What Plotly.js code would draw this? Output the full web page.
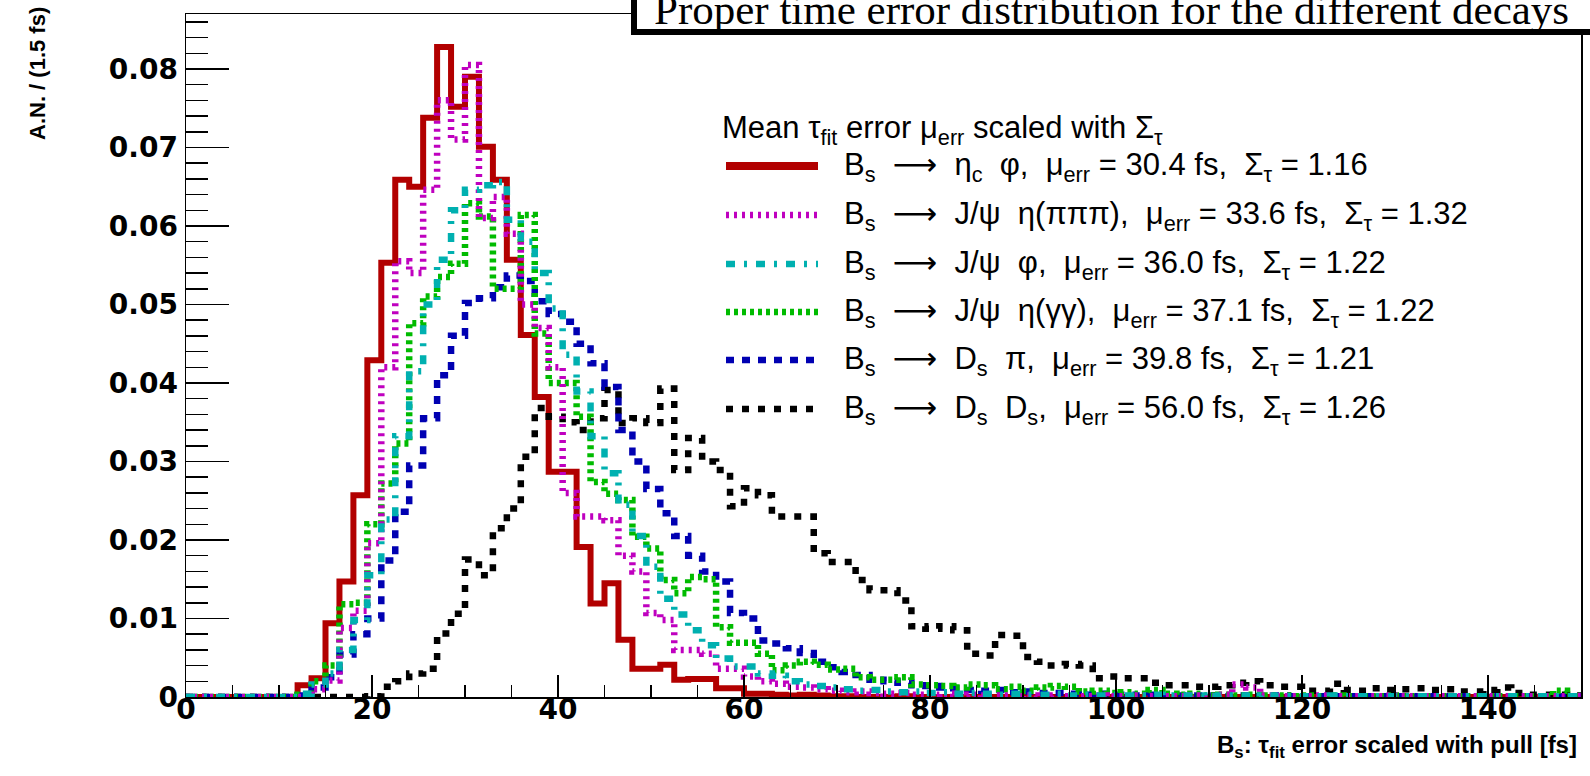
<!DOCTYPE html>
<html>
<head>
<meta charset="utf-8">
<script src="https://cdn.plot.ly/plotly-3.0.1.min.js"></script>
<style>html,body{margin:0;padding:0;background:#fff;}#chart{width:1590px;height:776px;}</style>
</head>
<body>
<div id="chart"></div>
<script>
// ---------- data (normalised entries per 1.5 fs bin, 100 bins from 0 to 150 fs) ----------
const BIN_WIDTH = 1.5;
const X_MIN = 0;

const etacPhi = [
 0,0,0,0,0,0,0,0,0.0015,0.0024,
 0.0094,0.0147,0.0257,0.0429,0.0553,0.0659,0.0650,0.0738,0.0828,0.0752,
 0.0790,0.0701,0.0659,0.0557,0.0461,0.0382,0.0287,0.0287,0.0191,0.0119,
 0.0145,0.0073,0.0036,0.0036,0.0041,0.0022,0.0023,0.0023,0.0011,0.0011,
 0.0004,0.0004,0.0003,0.0002,0.0003,0.0002,0.0001,0.0001,0,0,
 0,0.0001,0,0,0,0,0,0,0,0,
 0,0,0,0,0,0,0,0,0,0,
 0,0,0,0,0,0,0,0,0,0,
 0,0,0,0,0,0,0,0,0,0,
 0,0,0,0,0,0,0,0,0,0
];
const jpsiEta3pi = [
 0,0,0,0,0,0,0,0,0,0.0010,
 0.0021,0.0088,0.0110,0.0196,0.0420,0.0555,0.0540,0.0646,0.0760,0.0710,
 0.0805,0.0610,0.0637,0.0590,0.0500,0.0470,0.0420,0.0260,0.0230,0.0230,
 0.0225,0.0180,0.0160,0.0107,0.0098,0.0060,0.0060,0.0055,0.0036,0.0036,
 0.0026,0.0020,0.0017,0.0013,0.0012,0.0010,0.0008,0.0006,0.0007,0.0005,
 0.0004,0.0005,0.0003,0.0003,0.0004,0.0002,0.0003,0.0002,0.0002,0.0001,
 0.0002,0.0001,0.0002,0.0001,0.0001,0.0002,0.0001,0.0001,0.0002,0.0001,
 0.0001,0.0001,0.0002,0.0001,0.0003,0.0016,0.0012,0.0002,0.0001,0.0001,
 0.0001,0.0002,0.0001,0.0001,0.0001,0.0001,0.0002,0.0001,0.0001,0.0001,
 0.0001,0.0001,0.0001,0.0001,0.0001,0.0001,0.0001,0.0001,0.0001,0.0001
];
const jpsiPhi = [
 0,0,0,0,0,0,0,0,0.0004,0.0016,
 0.0030,0.0060,0.0098,0.0155,0.0226,0.0332,0.0415,0.0500,0.0557,0.0620,
 0.0646,0.0652,0.0656,0.0608,0.0580,0.0540,0.0495,0.0436,0.0389,0.0332,
 0.0285,0.0245,0.0205,0.0166,0.0125,0.0105,0.0085,0.0066,0.0049,0.0039,
 0.0039,0.0030,0.0027,0.0020,0.0016,0.0014,0.0012,0.0010,0.0008,0.0009,
 0.0007,0.0006,0.0007,0.0005,0.0006,0.0004,0.0005,0.0004,0.0003,0.0004,
 0.0003,0.0003,0.0004,0.0002,0.0003,0.0002,0.0003,0.0002,0.0002,0.0003,
 0.0002,0.0002,0.0002,0.0001,0.0002,0.0002,0.0001,0.0002,0.0001,0.0001,
 0.0001,0.0001,0.0002,0.0001,0.0001,0.0001,0.0001,0.0001,0.0001,0.0001,
 0.0001,0.0001,0.0001,0.0001,0.0001,0.0001,0.0001,0.0001,0.0001,0.0001
];
const jpsiEtaGG = [
 0,0,0,0,0,0,0,0,0.0003,0.0020,
 0.0040,0.0118,0.0120,0.0220,0.0272,0.0323,0.0476,0.0510,0.0535,0.0552,
 0.0629,0.0612,0.0520,0.0520,0.0614,0.0463,0.0400,0.0400,0.0357,0.0274,
 0.0259,0.0251,0.0204,0.0189,0.0149,0.0132,0.0153,0.0150,0.0089,0.0069,
 0.0069,0.0055,0.0034,0.0040,0.0045,0.0041,0.0035,0.0036,0.0025,0.0022,
 0.0022,0.0025,0.0016,0.0015,0.0014,0.0012,0.0016,0.0015,0.0010,0.0013,
 0.0008,0.0012,0.0014,0.0013,0.0007,0.0008,0.0005,0.0006,0.0004,0.0009,
 0.0004,0.0003,0.0004,0.0002,0.0003,0.0002,0.0003,0.0002,0.0002,0.0001,
 0.0002,0.0001,0.0002,0.0001,0.0001,0.0001,0.0002,0.0001,0.0001,0.0001,
 0.0001,0.0001,0.0001,0.0001,0.0001,0.0001,0.0001,0.0001,0.0008,0.0001
];
const dsPi = [
 0,0,0,0,0,0,0,0,0.0002,0.0012,
 0.0025,0.0054,0.0080,0.0100,0.0174,0.0236,0.0295,0.0355,0.0410,0.0460,
 0.0502,0.0508,0.0522,0.0537,0.0530,0.0504,0.0488,0.0478,0.0450,0.0425,
 0.0395,0.0340,0.0300,0.0265,0.0234,0.0205,0.0180,0.0160,0.0147,0.0107,
 0.0100,0.0072,0.0068,0.0062,0.0056,0.0045,0.0038,0.0032,0.0028,0.0022,
 0.0020,0.0018,0.0015,0.0014,0.0012,0.0011,0.0009,0.0008,0.0009,0.0006,
 0.0007,0.0005,0.0005,0.0004,0.0003,0.0004,0.0003,0.0003,0.0002,0.0003,
 0.0002,0.0002,0.0002,0.0002,0.0001,0.0002,0.0001,0.0001,0.0002,0.0001,
 0.0001,0.0001,0.0001,0.0001,0.0001,0.0001,0.0001,0.0001,0.0001,0.0001,
 0.0001,0.0001,0.0001,0.0001,0.0001,0.0001,0.0001,0.0001,0.0001,0.0001
];
const dsDs = [
 0,0,0,0,0,0,0,0,0,0,
 0,0,0,0.0001,0.0013,0.0020,0.0030,0.0036,0.0081,0.0106,
 0.0175,0.0155,0.0215,0.0240,0.0306,0.0368,0.0357,0.0350,0.0340,0.0355,
 0.0391,0.0349,0.0355,0.0349,0.0393,0.0289,0.0330,0.0300,0.0289,0.0243,
 0.0266,0.0257,0.0230,0.0230,0.0230,0.0183,0.0172,0.0172,0.0149,0.0136,
 0.0136,0.0123,0.0090,0.0087,0.0090,0.0085,0.0055,0.0053,0.0079,0.0078,
 0.0051,0.0045,0.0040,0.0042,0.0040,0.0024,0.0026,0.0024,0.0024,0.0018,
 0.0015,0.0015,0.0013,0.0013,0.0015,0.0018,0.0020,0.0015,0.0013,0.0013,
 0.0008,0.0008,0.0017,0.0009,0.0008,0.0011,0.0009,0.0010,0.0011,0.0009,
 0.0010,0.0007,0.0007,0.0009,0.0012,0.0005,0.0003,0.0003,0.0003,0.0002
];

const SERIES_VALUES = [etacPhi, jpsiEta3pi, jpsiPhi, jpsiEtaGG, dsPi, dsDs];
const LEGEND_HEADER = "Mean \u03c4<sub>fit</sub> error \u03bc<sub>err</sub> scaled with \u03a3<sub>\u03c4</sub>";
const LEGEND_LABELS = [
 "B<sub>s</sub>\u00a0 \u27f6 \u00a0\u03b7<sub>c</sub>\u00a0 \u03c6,\u00a0 \u03bc<sub>err</sub> = 30.4 fs,\u00a0 \u03a3<sub>\u03c4</sub> = 1.16",
 "B<sub>s</sub>\u00a0 \u27f6 \u00a0J/\u03c8\u00a0 \u03b7(\u03c0\u03c0\u03c0),\u00a0 \u03bc<sub>err</sub> = 33.6 fs,\u00a0 \u03a3<sub>\u03c4</sub> = 1.32",
 "B<sub>s</sub>\u00a0 \u27f6 \u00a0J/\u03c8\u00a0 \u03c6,\u00a0 \u03bc<sub>err</sub> = 36.0 fs,\u00a0 \u03a3<sub>\u03c4</sub> = 1.22",
 "B<sub>s</sub>\u00a0 \u27f6 \u00a0J/\u03c8\u00a0 \u03b7(\u03b3\u03b3),\u00a0 \u03bc<sub>err</sub> = 37.1 fs,\u00a0 \u03a3<sub>\u03c4</sub> = 1.22",
 "B<sub>s</sub>\u00a0 \u27f6 \u00a0D<sub>s</sub>\u00a0 \u03c0,\u00a0 \u03bc<sub>err</sub> = 39.8 fs,\u00a0 \u03a3<sub>\u03c4</sub> = 1.21",
 "B<sub>s</sub>\u00a0 \u27f6 \u00a0D<sub>s</sub>\u00a0 D<sub>s</sub>,\u00a0 \u03bc<sub>err</sub> = 56.0 fs,\u00a0 \u03a3<sub>\u03c4</sub> = 1.26"
];
const TITLE_TEXT = "Proper time error distribution for the different decays";
const X_TITLE = "B<sub>s</sub>: \u03c4<sub>fit</sub> error scaled with pull [fs]";
const Y_TITLE = "A.N. / (1.5 fs)";

// ---------- styles ----------
const COLORS = ['#b20000', '#bf00bf', '#00b0b0', '#00bb00', '#0000b2', '#000000'];
const DASHES = ['solid', '3px,5px', '9px,9px,3px,9px', '4px,4px', '8px,8px', '7px,9px'];
const WIDTHS = [6, 6.5, 6.5, 6.5, 6.5, 6.5];
const LEG_WIDTHS = [8, 6.5, 6.5, 6.5, 6.5, 6.5];
const DRAW_ORDER = [0, 5, 4, 3, 1, 2];

// plot-area pixel geometry
const W = 1590, H = 776, L = 186, R = 9, T = 14, B = 79;
const PW = W - L - R, PH = H - T - B;
const xp = px => (px - L) / PW;
const yp = py => (H - B - py) / PH;

// bin edges for the step outlines
function edges(n) { const e = []; for (let i = 0; i <= n; i++) e.push(X_MIN + i * BIN_WIDTH); return e; }

const traces = DRAW_ORDER.map(i => {
  const v = SERIES_VALUES[i];
  return {
    type: 'scatter', mode: 'lines',
    x: edges(v.length),
    y: v.concat([v[v.length - 1]]),
    line: {shape: 'hv', color: COLORS[i], width: WIDTHS[i], dash: DASHES[i]},
    name: LEGEND_LABELS[i], showlegend: false, hoverinfo: 'skip'
  };
});

// legend (drawn as in the ROOT pave)
const LEG_SAMPLE_X0 = 726, LEG_SAMPLE_X1 = 818, LEG_TEXT_X = 842;
const LEG_ROWS_Y = [166, 215, 264, 312, 360, 409];
const LEG_HEADER_Y = 129;
const LEG_FONT = {family: 'Liberation Sans, Arial, DejaVu Sans, sans-serif', size: 31, color: '#000'};

const shapes = [];
const annotations = [];
LEGEND_LABELS.forEach((lab, i) => {
  shapes.push({type: 'line', xref: 'paper', yref: 'paper',
    x0: xp(LEG_SAMPLE_X0), x1: xp(LEG_SAMPLE_X1), y0: yp(LEG_ROWS_Y[i]), y1: yp(LEG_ROWS_Y[i]),
    line: {color: COLORS[i], width: LEG_WIDTHS[i], dash: DASHES[i]}});
  annotations.push({xref: 'paper', yref: 'paper', x: xp(LEG_TEXT_X), y: yp(LEG_ROWS_Y[i]),
    xanchor: 'left', yanchor: 'middle', yshift: -1, showarrow: false, text: lab, font: LEG_FONT});
});
annotations.push({xref: 'paper', yref: 'paper', x: xp(720), y: yp(LEG_HEADER_Y),
  xanchor: 'left', yanchor: 'middle', yshift: -1, showarrow: false, text: LEGEND_HEADER, font: LEG_FONT});

// title pave
shapes.push({type: 'rect', xref: 'paper', yref: 'paper', layer: 'above',
  x0: xp(634), x1: xp(1640), y0: yp(32), y1: yp(-40),
  fillcolor: '#fff', line: {color: '#000', width: 6}});
annotations.push({xref: 'paper', yref: 'paper', x: xp(652), y: yp(30),
  xanchor: 'left', yanchor: 'bottom', yshift: -5, showarrow: false, text: TITLE_TEXT,
  font: {family: 'Liberation Serif, Times New Roman, serif', size: 43, color: '#000'}});

// axis titles
annotations.push({xref: 'paper', yref: 'paper', x: xp(37), y: yp(74),
  xanchor: 'center', yanchor: 'middle', textangle: -90, showarrow: false, text: Y_TITLE,
  font: {family: 'Liberation Sans, Arial, sans-serif', size: 22, weight: 'bold', color: '#000'}});
annotations.push({xref: 'paper', yref: 'paper', x: xp(1579), y: yp(746),
  xanchor: 'right', yanchor: 'middle', showarrow: false, text: X_TITLE,
  font: {family: 'Liberation Sans, Arial, sans-serif', size: 24, weight: 'bold', color: '#000'}});

const tickFont = {family: 'DejaVu Sans, sans-serif', size: 28, weight: 'bold', color: '#000'};

const layout = {
  width: W, height: H,
  margin: {l: L, r: R, t: T, b: B, pad: 0},
  paper_bgcolor: '#fff', plot_bgcolor: '#fff',
  showlegend: false,
  xaxis: {
    range: [0, 150], tick0: 0, dtick: 20, ticks: 'inside', ticklen: 22, tickwidth: 1.5, tickcolor: '#000',
    showline: true, linecolor: '#000', linewidth: 1.5, mirror: true,
    showgrid: false, zeroline: false, tickfont: tickFont, ticklabelstandoff: -13,
    minor: {ticks: 'inside', ticklen: 12, tick0: 0, dtick: 5, tickwidth: 1.5, tickcolor: '#000', showgrid: false}
  },
  yaxis: {
    range: [0, 0.087], tick0: 0, dtick: 0.01, ticks: 'inside', ticklen: 43, tickwidth: 1.5, tickcolor: '#000',
    showline: true, linecolor: '#000', linewidth: 1.5, mirror: true,
    showgrid: false, zeroline: false, tickfont: tickFont, ticklabelstandoff: 1,
    minor: {ticks: 'inside', ticklen: 22, tick0: 0, dtick: 0.002, tickwidth: 1.5, tickcolor: '#000', showgrid: false}
  },
  shapes: shapes,
  annotations: annotations
};

Plotly.newPlot('chart', traces, layout, {displayModeBar: false, staticPlot: true});
</script>
</body>
</html>
